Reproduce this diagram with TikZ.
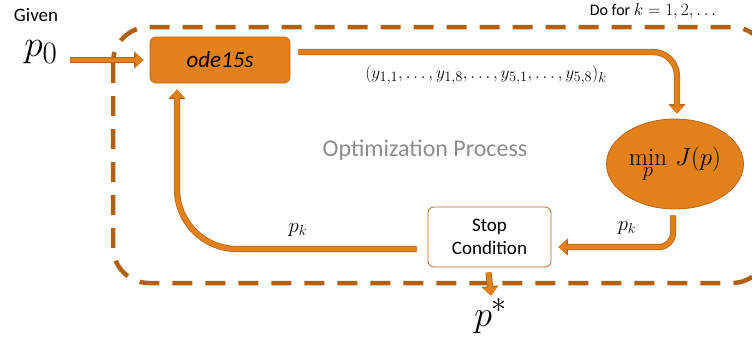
\documentclass[tikz,border=0pt]{standalone}
\usepackage{fontspec}
\newfontfamily\carlito{Carlito}
\usetikzlibrary{arrows.meta,shapes.geometric,calc}
\definecolor{orA}{HTML}{E2801A}
\definecolor{dkA}{HTML}{B8661A}
\definecolor{dashA}{HTML}{B0600F}
\definecolor{grA}{HTML}{8C8C8C}
\tikzset{
  arr/.style={draw=orA, line width=4.6pt, -{Triangle[length=8pt,width=14pt]},
    preaction={draw=dkA, line width=6.2pt, -{Triangle[length=9.5pt,width=16.5pt]}}},
  boxA/.style={draw=dkA, fill=orA, line width=0.8pt, rounded corners=6pt, minimum width=140pt, minimum height=46pt, inner sep=0pt},
  boxB/.style={draw=dkA, fill=white, line width=0.8pt, rounded corners=6pt, minimum width=123pt, minimum height=60pt, inner sep=0pt, align=center,
    font=\carlito\fontsize{19}{23}\selectfont},
  ellA/.style={ellipse, draw=dkA, fill=orA, line width=0.8pt, minimum width=137pt, minimum height=90pt, inner sep=0pt},
  lbl/.style={inner sep=0pt},
  bigm/.style={inner sep=0pt, font=\fontsize{24.88}{28}\selectfont},
}
\begin{document}
\begin{tikzpicture}[x=1pt,y=1pt]
\useasboundingbox (0,0) rectangle (752,-338);
% dashed frame
\draw[dashA, line width=4.5pt, dash pattern=on 20pt off 13pt, rounded corners=36pt] (113,-27) rectangle (768,-283);
% nodes
\node[boxA] (ode) at (220,-60) {\carlito\fontsize{23}{26}\selectfont\itshape ode15s};
\node[ellA] (ell) at (675,-164) {\fontsize{24.88}{28}\selectfont$\displaystyle\min_{p}\,J(p)$};
\node[boxB] (stop) at (489.5,-237) {Stop\\Condition};
\node[lbl] (given) at (36,-15) {\carlito\fontsize{19}{22}\selectfont Given};
\node[bigm, scale=1.5] (p0) at (41,-52) {$p_0$};
\node[bigm, scale=1.45] (pstar) at (491,-316) {$p^*$};
\node[lbl] (dofor) at (653,-11) {\carlito\fontsize{16}{19}\selectfont Do for $k=1,2,\ldots$};
\node[lbl] (opt) at (425,-150) {\carlito\fontsize{24}{28}\selectfont\color{grA}Optimization Process};
\node[lbl] (ylab) at (486,-75) {\fontsize{19}{22}\selectfont$(y_{1,1},\ldots,y_{1,8},\ldots,y_{5,1},\ldots,y_{5,8})_k$};
\node[lbl] (pk1) at (627,-228) {\fontsize{22}{24}\selectfont$p_k$};
\node[lbl] (pk2) at (298,-230) {\fontsize{22}{24}\selectfont$p_k$};
\coordinate (p0a) at (70,-58);
% connectors
\draw[arr] (p0a |- ode.west) -- ([xshift=-6pt]ode.west);
\draw[arr, rounded corners=24pt] ([xshift=8pt,yshift=8pt]ode.east) -| ([xshift=2pt,yshift=5pt]ell.north);
\draw[arr, rounded corners=14pt] ([xshift=-2pt,yshift=-6pt]ell.south) |- ([xshift=7pt,yshift=-10pt]stop.east);
\draw[arr, rounded corners=60pt] ([xshift=-11pt,yshift=-12pt]stop.west) -| ([xshift=-43pt,yshift=-6pt]ode.south);
\draw[arr] ([xshift=-1pt,yshift=-5pt]stop.south) -- ([yshift=3pt]pstar.north);
\end{tikzpicture}
\end{document}
